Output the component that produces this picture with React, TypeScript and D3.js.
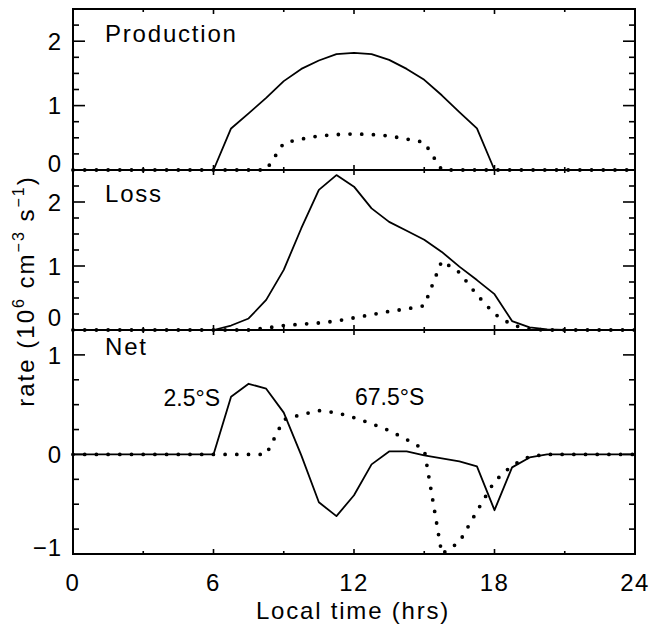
import * as d3 from 'd3';

// local time of each model point (hrs)
const hours = [
  0, 0.75, 1.5, 2.25, 3, 3.75, 4.5, 5.25, 6, 6.75, 7.5, 8.25, 9, 9.75, 10.5, 11.25, 12,
  12.75, 13.5, 14.25, 15, 15.75, 16.5, 17.25, 18, 18.75, 19.5, 20.25, 21, 21.75, 22.5, 23.25, 24,
];

// 2.5°S (solid) and 67.5°S (dotted), units 10^6 cm^-3 s^-1
const prodEq = [
  0, 0, 0, 0, 0, 0, 0, 0, 0, 0.645, 0.88, 1.12, 1.38, 1.57, 1.7, 1.8, 1.82,
  1.8, 1.71, 1.57, 1.4, 1.16, 0.9, 0.645, 0, 0, 0, 0, 0, 0, 0, 0, 0,
];
const prodPolar = [
  0, 0, 0, 0, 0, 0, 0, 0, 0, 0, 0, 0, 0.42, 0.48, 0.53, 0.55, 0.56,
  0.55, 0.53, 0.48, 0.43, 0, 0, 0, 0, 0, 0, 0, 0, 0, 0, 0, 0,
];
const lossEq = [
  0, 0, 0, 0, 0, 0, 0, 0, 0, 0.07, 0.18, 0.47, 0.94, 1.59, 2.19, 2.42, 2.24,
  1.9, 1.69, 1.55, 1.41, 1.22, 0.99, 0.78, 0.56, 0.14, 0.04, 0.01, 0, 0, 0, 0, 0,
];
const lossPolar = [
  0, 0, 0, 0, 0, 0, 0, 0, 0, 0, 0, 0.03, 0.07, 0.09, 0.11, 0.14, 0.19,
  0.24, 0.29, 0.33, 0.38, 1.08, 0.9, 0.55, 0.25, 0.08, 0.01, 0, 0, 0, 0, 0, 0,
];
const netEq = [
  0, 0, 0, 0, 0, 0, 0, 0, 0, 0.58, 0.71, 0.66, 0.42, -0.01, -0.48, -0.62, -0.41,
  -0.1, 0.03, 0.03, -0.01, -0.04, -0.07, -0.12, -0.56, -0.13, -0.03, 0, 0, 0, 0, 0, 0,
];
const netPolar = [
  0, 0, 0, 0, 0, 0, 0, 0, 0, 0, 0, 0, 0.35, 0.4, 0.44, 0.42, 0.37,
  0.31, 0.24, 0.15, 0.05, -1.0, -0.88, -0.57, -0.27, -0.11, -0.02, 0, 0, 0, 0, 0, 0,
];

const xMajor = [0, 6, 12, 18, 24];
const xMinor = [3, 9, 15, 21];

const FONT = '"Liberation Sans", Arial, sans-serif';

const panels = [
  { name: 'Production', top: 9, bottom: 170, domain: [0, 2.5], labels: [0, 1, 2], eq: prodEq, polar: prodPolar, zeroShift: -7 },
  { name: 'Loss', top: 170, bottom: 330, domain: [0, 2.5], labels: [0, 1, 2], eq: lossEq, polar: lossPolar, zeroShift: -13 },
  { name: 'Net', top: 330, bottom: 554, domain: [-1, 1.25], labels: [-1, 0, 1], eq: netEq, polar: netPolar, zeroShift: 0 },
];

export default function App() {
  const W = 649;
  const H = 627;
  const left = 73;
  const right = 635;
  const x = d3.scaleLinear().domain([0, 24]).range([left, right]);

  return (
    <svg width={W} height={H} style={{ position: 'absolute', left: 0, top: 0, background: '#fff' }} fontFamily={FONT}>
      {panels.map((p, pi) => {
        const y = d3.scaleLinear().domain(p.domain).range([p.bottom, p.top]);
        const line = d3
          .line<number>()
          .x((_, i) => x(hours[i]))
          .y((d) => y(d));
        const yTicks = d3.range(p.domain[0], p.domain[1] + 0.001, 0.25);
        const isBottom = pi === panels.length - 1;
        return (
          <g key={p.name}>
            {/* y ticks, left and right */}
            {yTicks.map((t) => {
              const major = Math.abs(t - Math.round(t)) < 1e-6;
              const len = major ? 12 : 6;
              return (
                <g key={t} stroke="#000" strokeWidth={1.6}>
                  <line x1={left} x2={left + len} y1={y(t)} y2={y(t)} />
                  <line x1={right} x2={right - len} y1={y(t)} y2={y(t)} />
                </g>
              );
            })}
            {/* x ticks, top and bottom of each panel */}
            {xMajor.concat(xMinor).map((h) => {
              const len = xMajor.includes(h) ? 5 : 3;
              return (
                <g key={h} stroke="#000" strokeWidth={1.6}>
                  <line x1={x(h)} x2={x(h)} y1={p.top} y2={p.top + len} />
                  <line x1={x(h)} x2={x(h)} y1={p.bottom} y2={p.bottom - len} />
                </g>
              );
            })}
            {/* y tick labels */}
            {p.labels.map((v) => {
              let shift = 0;
              if (v === 0) shift = p.zeroShift;
              if (v === p.domain[0] && v !== 0) shift = -7;
              return (
                <text
                  key={v}
                  x={62}
                  y={y(v) + shift}
                  dy="0.36em"
                  textAnchor="end"
                  fontSize={24}
                  letterSpacing={1}
                >
                  {v < 0 ? `\u2212${Math.abs(v)}` : v}
                </text>
              );
            })}
            {/* frame */}
            <rect x={left} y={p.top} width={right - left} height={p.bottom - p.top} fill="none" stroke="#000" strokeWidth={2} />
            {/* data */}
            <path d={line(p.eq) ?? ''} fill="none" stroke="#000" strokeWidth={1.8} strokeLinejoin="round" />
            <path
              d={line(p.polar) ?? ''}
              fill="none"
              stroke="#000"
              strokeWidth={3.8}
              strokeLinecap="round"
              strokeDasharray="0 11.7"
            />
            <text x={105} y={p.top + (pi === 0 ? 33 : pi === 1 ? 32 : 25)} fontSize={24} letterSpacing={1.8}>
              {p.name}
            </text>
            {isBottom &&
              xMajor.map((h) => (
                <text key={h} x={x(h)} y={591} textAnchor="middle" fontSize={24} letterSpacing={1.5}>
                  {h}
                </text>
              ))}
          </g>
        );
      })}

      {/* series labels in the Net panel */}
      <text x={220} y={406} textAnchor="end" fontSize={23}>
        2.5°S
      </text>
      <text x={355} y={405} fontSize={23}>
        67.5°S
      </text>

      {/* axis titles */}
      <text x={353} y={619} textAnchor="middle" fontSize={24} letterSpacing={1.8}>
        Local time (hrs)
      </text>
      <text transform="translate(34,291) rotate(-90)" textAnchor="middle" fontSize={24} letterSpacing={2}>
        rate (10
        <tspan dy={-10} fontSize={16}>6</tspan>
        <tspan dy={10}> cm</tspan>
        <tspan dy={-10} fontSize={16}>{'\u22123'}</tspan>
        <tspan dy={10}> s</tspan>
        <tspan dy={-10} fontSize={16}>{'\u22121'}</tspan>
        <tspan dy={10}>)</tspan>
      </text>
    </svg>
  );
}
